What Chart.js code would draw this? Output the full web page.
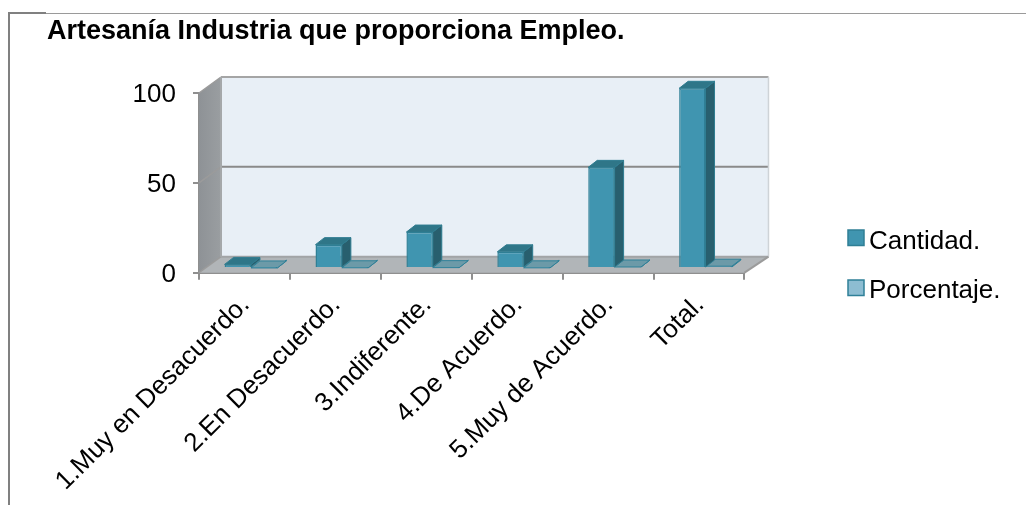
<!DOCTYPE html>
<html>
<head>
<meta charset="utf-8">
<style>html,body{margin:0;padding:0;background:#fff}canvas{display:block}</style>
<script src="https://cdn.jsdelivr.net/npm/chart.js@4"></script>
</head>
<body>
<canvas id="c" width="1026" height="505"></canvas>
<script>
const titleText = 'Artesanía Industria que proporciona Empleo.';
const categories = ['1.Muy en Desacuerdo.','2.En Desacuerdo.','3.Indiferente.','4.De Acuerdo.','5.Muy de Acuerdo.','Total.'];
const cantidad = [2,13,20,9,56,100];
const porcentaje = [0.02,0.13,0.20,0.09,0.56,1.00];
const FONT = '"Liberation Sans", Arial, sans-serif';
const depth = {x:22,rx:24,y:-16}, barDepth = {x:9,y:-7}, barShift = {x:6.5,y:-4.7};
function poly(ctx,pts,fill,stroke,lw){
  ctx.beginPath();pts.forEach((p,i)=>i?ctx.lineTo(p[0],p[1]):ctx.moveTo(p[0],p[1]));ctx.closePath();
  if(fill){ctx.fillStyle=fill;ctx.fill();}
  if(stroke){ctx.strokeStyle=stroke;ctx.lineWidth=lw||1;ctx.stroke();}
}
const scene = {
  id:'scene',
  afterLayout(chart){
    const l=chart.legend;l.left=830;l.right=1026;l.top=205.4;l.bottom=480;
  },
  beforeDraw(chart){
    const c=chart.ctx;c.save();
    c.fillStyle='#fff';c.fillRect(0,0,1026,505);
    c.fillStyle='#9a9a9a';c.fillRect(9,13,1017,1);
    c.fillStyle='#808080';c.fillRect(8,12,38,2);c.fillRect(8,12,2,493);
    c.restore();
  },
  beforeDatasetsDraw(chart){
    const c=chart.ctx,x=chart.scales.x,y=chart.scales.y;
    const l=x.left,r=x.right,t=y.getPixelForValue(100),b=y.getPixelForValue(0);
    const dx=depth.x,dy=depth.y,rx2=r+depth.rx;
    c.save();
    poly(c,[[l+dx,t+dy],[rx2,t+dy],[rx2,b+dy],[l+dx,b+dy]],'#e8eff6');
    const g=c.createLinearGradient(l,0,l+dx,0);g.addColorStop(0,'#8e9296');g.addColorStop(1,'#9a9ea1');
    poly(c,[[l,t],[l+dx,t+dy],[l+dx,b+dy],[l,b]],g);
    poly(c,[[l,b],[l+dx,b+dy],[rx2,b+dy],[r,b]],'#b1b5b8');
    c.lineCap='butt';
    const line=(a,bb,col,w)=>{c.strokeStyle=col;c.lineWidth=w;c.beginPath();c.moveTo(a[0],a[1]);c.lineTo(bb[0],bb[1]);c.stroke();};
    y.ticks.forEach(tk=>{
      const p=y.getPixelForValue(tk.value);
      const col=(tk.value===0)?'#a2a4a6':'#8a8a8a';
      line([l,p],[l+dx,p+dy],'#9b9b9b',1.5);
      line([l+dx,p+dy],[rx2,p+dy],tk.value===100?'#a5a5a5':col,2);
    });
    line([l+dx,t+dy],[l+dx,b+dy],'#a5a8aa',2);
    line([rx2,t+dy],[rx2,b+dy],'#ced3d7',1.5);
    line([r,b],[rx2,b+dy],'#9b9b9b',2);
    [[1,'#6c9aa8','#4f8a9b','#2f8098'],[0,'#2f7688','#285f6e','#2f7c90']].forEach(([di,topCol,sideCol,edge])=>{
      const meta=chart.getDatasetMeta(di);
      meta.data.forEach(el=>{
        const lx=el.x-el.width/2+barShift.x,rx=el.x+el.width/2+barShift.x,ty=el.y+barShift.y,by=el.base+barShift.y;
        const bx=barDepth.x,by2=barDepth.y;
        poly(c,[[rx,ty],[rx+bx,ty+by2],[rx+bx,by+by2],[rx,by]],sideCol,edge,1);
        poly(c,[[lx,ty],[lx+bx,ty+by2],[rx+bx,ty+by2],[rx,ty]],topCol,edge,1);
      });
    });
    c.restore();
    c.save();
    c.translate(barShift.x,barShift.y);
  },
  afterDatasetsDraw(chart){chart.ctx.restore();},
  afterDraw(chart){
    const c=chart.ctx;
    c.save();
    chart.data.datasets.forEach((d,i)=>{
      const yy=230+50*i;
      c.fillStyle=d.legendFill;c.fillRect(848,yy,16,15.5);
      c.strokeStyle=d.borderColor;c.lineWidth=1.5;c.strokeRect(848,yy,16,15.5);
    });
    c.restore();
  }
};
new Chart(document.getElementById('c'),{
  type:'bar',
  data:{labels:categories,datasets:[
    {label:'Cantidad.',data:cantidad,backgroundColor:'#4095b0',legendFill:'#4095b0',borderColor:'#2f7f95',borderWidth:1.5},
    {label:'Porcentaje.',data:porcentaje,backgroundColor:'#4a93ab',legendFill:'#8dbdd2',borderColor:'#2f8098',borderWidth:1.5}
  ]},
  plugins:[scene],
  options:{
    responsive:false,animation:false,devicePixelRatio:1,
    layout:{padding:{left:47,right:101,top:0,bottom:0}},
    datasets:{bar:{categoryPercentage:0.58,barPercentage:1}},
    plugins:{
      tooltip:{enabled:false},
      title:{display:true,text:titleText,align:'start',color:'#000',
        font:{family:FONT,size:27,weight:'bold',lineHeight:1.2},padding:{top:15.8,bottom:44.8}},
      legend:{display:true,position:'right',align:'start',
        labels:{color:'#000',font:{family:FONT,size:26,lineHeight:1.2},boxWidth:3,boxHeight:3,padding:23,
          generateLabels(ch){return Chart.defaults.plugins.legend.labels.generateLabels(ch).map(i=>Object.assign(i,{fillStyle:'rgba(0,0,0,0)',strokeStyle:'rgba(0,0,0,0)',lineWidth:0}));}}}
    },
    scales:{
      x:{
        afterFit(s){s.height=232.3;},
        grid:{display:true,drawOnChartArea:false,drawTicks:true,tickLength:7,color:'#8f8f8f',lineWidth:2},
        border:{display:true,color:'#8f8f8f',width:2},
        ticks:{autoSkip:false,minRotation:45,maxRotation:45,color:'#000',labelOffset:1,padding:10,
          font:{family:FONT,size:26}}
      },
      y:{
        min:0,max:100,
        afterFit(s){s.width=152;},
        grid:{display:true,drawOnChartArea:false,drawTicks:true,tickLength:6,color:'#8f8f8f',lineWidth:2},
        border:{display:true,color:'#8f8f8f',width:2},
        ticks:{stepSize:50,color:'#000',padding:17,labelOffset:2,font:{family:FONT,size:26}}
      }
    }
  }
});
</script>
</body>
</html>
